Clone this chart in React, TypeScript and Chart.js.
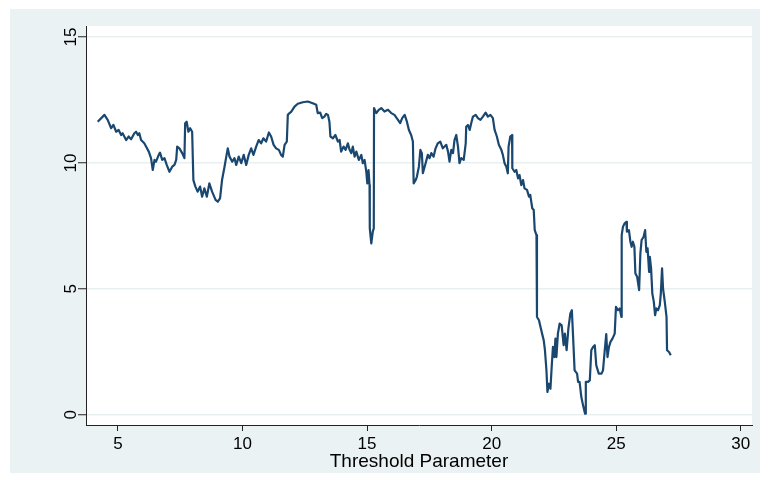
import { useEffect, useRef } from 'react';
import { Chart, registerables } from 'chart.js';

Chart.register(...registerables);

// Threshold parameter grid (x) and the test statistic at each grid point (y)
const THRESHOLD = [
  4.19, 4.46, 4.59, 4.73, 4.82, 4.93, 5.03, 5.13, 5.19, 5.33,
  5.43, 5.53, 5.66, 5.73, 5.8, 5.86, 5.93, 6.06, 6.13, 6.24,
  6.33, 6.4, 6.47, 6.53, 6.64, 6.69, 6.78, 6.87, 6.96, 7.07,
  7.18, 7.27, 7.34, 7.38, 7.47, 7.58, 7.67, 7.7, 7.76, 7.83,
  7.9, 7.98, 8.03, 8.11, 8.2, 8.3, 8.38, 8.47, 8.57, 8.67,
  8.78, 8.92, 9.01, 9.1, 9.18, 9.28, 9.35, 9.41, 9.48, 9.59,
  9.68, 9.75, 9.85, 9.95, 10.05, 10.15, 10.25, 10.35, 10.44, 10.55,
  10.65, 10.75, 10.84, 10.95, 11.06, 11.15, 11.25, 11.35, 11.46, 11.55,
  11.62, 11.69, 11.78, 11.82, 11.89, 11.96, 12.09, 12.22, 12.42, 12.62,
  12.82, 12.96, 13.02, 13.12, 13.2, 13.29, 13.36, 13.43, 13.49, 13.53,
  13.63, 13.73, 13.83, 13.9, 13.96, 14.06, 14.14, 14.23, 14.3, 14.37,
  14.43, 14.5, 14.57, 14.67, 14.77, 14.83, 14.9, 14.97, 15.01, 15.06,
  15.1, 15.11, 15.17, 15.23, 15.27, 15.28, 15.37, 15.47, 15.57, 15.7,
  15.84, 15.97, 16.1, 16.24, 16.33, 16.41, 16.51, 16.6, 16.68, 16.77,
  16.84, 16.87, 16.95, 17.0, 17.08, 17.14, 17.2, 17.24, 17.35, 17.44,
  17.51, 17.58, 17.67, 17.75, 17.84, 17.94, 18.04, 18.18, 18.25, 18.31,
  18.38, 18.45, 18.51, 18.58, 18.65, 18.71, 18.78, 18.88, 18.96, 18.98,
  19.05, 19.12, 19.18, 19.25, 19.36, 19.45, 19.55, 19.65, 19.76, 19.85,
  19.95, 20.05, 20.12, 20.21, 20.29, 20.39, 20.45, 20.52, 20.59, 20.65,
  20.68, 20.75, 20.82, 20.83, 20.92, 20.99, 21.06, 21.12, 21.19, 21.26,
  21.32, 21.42, 21.5, 21.55, 21.63, 21.69, 21.73, 21.8, 21.82, 21.9,
  21.96, 22.04, 22.09, 22.14, 22.2, 22.24, 22.3, 22.36, 22.41, 22.46,
  22.52, 22.56, 22.6, 22.66, 22.73, 22.81, 22.89, 22.94, 23.01, 23.08,
  23.16, 23.22, 23.27, 23.33, 23.43, 23.47, 23.53, 23.6, 23.67, 23.75,
  23.78, 23.87, 23.94, 24.0, 24.07, 24.14, 24.2, 24.3, 24.41, 24.47,
  24.54, 24.6, 24.65, 24.71, 24.77, 24.85, 24.94, 24.99, 25.07, 25.14,
  25.21, 25.22, 25.27, 25.34, 25.41, 25.43, 25.51, 25.57, 25.62, 25.67,
  25.73, 25.77, 25.84, 25.92, 25.97, 26.02, 26.1, 26.16, 26.21, 26.26,
  26.32, 26.35, 26.4, 26.45, 26.51, 26.56, 26.61, 26.68, 26.75, 26.79,
  26.84, 26.88, 26.95, 27.02, 27.04, 27.12, 27.19,
];

const STATISTIC = [
  11.64, 11.91, 11.71, 11.38, 11.51, 11.24, 11.31, 11.11, 11.18, 10.91,
  11.05, 10.94, 11.18, 11.24, 11.11, 11.18, 10.91, 10.78, 10.65, 10.45,
  10.19, 9.72, 10.12, 10.05, 10.32, 10.41, 10.12, 10.19, 9.92, 9.65,
  9.85, 9.92, 10.12, 10.65, 10.58, 10.39, 10.19, 11.58, 11.64, 11.24,
  11.38, 11.24, 9.32, 9.06, 8.86, 9.06, 8.66, 8.99, 8.66, 9.19,
  8.86, 8.53, 8.46, 8.59, 9.32, 9.85, 10.25, 10.58, 10.25, 10.05,
  10.19, 9.92, 10.25, 9.99, 10.32, 9.92, 10.32, 10.58, 10.32, 10.65,
  10.91, 10.78, 10.98, 10.85, 11.21, 11.05, 10.72, 10.58, 10.52, 10.32,
  10.25, 10.72, 10.85, 11.91, 11.98, 12.04, 12.24, 12.35, 12.41, 12.44,
  12.37, 12.31, 11.98, 12.0, 11.78, 11.84, 11.95, 11.91, 11.64, 11.05,
  10.98, 11.11, 10.85, 10.91, 10.45, 10.65, 10.52, 10.78, 10.52, 10.39,
  10.65, 10.25, 10.45, 10.12, 10.32, 9.99, 10.12, 9.65, 9.19, 9.72,
  9.12, 7.4, 6.8, 7.27, 7.4, 12.18, 11.98, 12.11, 12.18, 12.04,
  12.11, 11.98, 11.91, 11.71, 11.58, 11.78, 11.91, 11.64, 11.31, 11.11,
  10.85, 9.19, 9.32, 9.45, 9.85, 10.52, 10.39, 9.59, 9.99, 10.32,
  10.19, 10.39, 10.25, 10.58, 10.78, 10.85, 10.58, 10.72, 10.45, 10.05,
  10.52, 10.39, 10.91, 11.11, 10.65, 9.99, 10.19, 10.12, 10.78, 11.44,
  11.51, 11.31, 11.58, 11.84, 11.91, 11.78, 11.71, 11.84, 12.0, 11.84,
  11.91, 11.78, 11.31, 11.05, 10.72, 10.52, 10.32, 9.99, 9.85, 9.59,
  10.65, 11.05, 11.11, 9.79, 9.65, 9.72, 9.39, 9.52, 9.12, 9.32,
  8.99, 8.93, 8.66, 8.73, 8.2, 8.13, 7.33, 7.13, 3.88, 3.75,
  3.49, 3.16, 2.96, 2.56, 1.76, 0.9, 1.23, 1.03, 1.89, 2.69,
  2.29, 3.02, 2.29, 3.22, 3.62, 3.55, 2.76, 3.22, 2.56, 3.42,
  4.02, 4.15, 3.09, 1.76, 1.63, 1.3, 1.3, 0.7, 0.37, 0.04,
  1.3, 1.3, 1.36, 2.56, 2.69, 2.76, 1.96, 1.63, 1.63, 1.76,
  2.56, 3.2, 2.29, 2.69, 2.89, 3.02, 3.22, 4.28, 4.15, 4.22,
  3.88, 7.13, 7.46, 7.6, 7.66, 7.27, 7.33, 6.87, 6.67, 6.87,
  6.67, 5.61, 5.48, 4.95, 6.41, 6.94, 7.07, 7.33, 6.47, 6.61,
  5.67, 6.27, 5.81, 4.81, 4.48, 3.95, 4.22, 4.15, 4.35, 4.81,
  5.81, 5.01, 4.48, 3.88, 2.56, 2.49, 2.36,
];

const X_TICKS = [5, 10, 15, 20, 25, 30];
const Y_TICKS = [0, 5, 10, 15];
const X_TITLE = 'Threshold Parameter';

const FONT_FAMILY = '"Liberation Sans", Arial, Helvetica, sans-serif';
const LINE_COLOR = '#1a476f';
const AXIS_COLOR = '#222222';
const GRID_COLOR = '#e8eff1';
const PANEL_COLOR = '#eaf2f3';

// White plot region on top of the tinted panel
const plotBackground = {
  id: 'plotBackground',
  beforeDraw(chart: any) {
    const { ctx, chartArea: a } = chart;
    ctx.save();
    ctx.fillStyle = '#ffffff';
    ctx.fillRect(a.left, a.top, a.right - a.left, a.bottom - a.top);
    ctx.restore();
  },
};

// Vertical-axis labels, turned to read bottom-to-top
const rotatedYLabels = {
  id: 'rotatedYLabels',
  afterDraw(chart: any) {
    const { ctx } = chart;
    const scale = chart.scales.y;
    ctx.save();
    ctx.font = `17px ${FONT_FAMILY}`;
    ctx.fillStyle = '#000000';
    ctx.textAlign = 'center';
    ctx.textBaseline = 'alphabetic';
    for (const v of Y_TICKS) {
      const py = scale.getPixelForValue(v);
      ctx.save();
      ctx.translate(scale.right - 10, py);
      ctx.rotate(-Math.PI / 2);
      ctx.fillText(String(v), 0, 0);
      ctx.restore();
    }
    ctx.restore();
  },
};

export default function App() {
  const canvasRef = useRef<HTMLCanvasElement | null>(null);

  useEffect(() => {
    if (!canvasRef.current) return;
    const points = THRESHOLD.map((x, i) => ({ x, y: STATISTIC[i] }));
    const chart = new Chart(canvasRef.current, {
      type: 'scatter',
      data: {
        datasets: [
          {
            data: points,
            showLine: true,
            borderColor: LINE_COLOR,
            borderWidth: 2.2,
            borderJoinStyle: 'round',
            pointRadius: 0,
            fill: false,
          },
        ],
      },
      options: {
        animation: false,
        responsive: true,
        maintainAspectRatio: false,
        layout: { padding: { top: 17, right: 8, left: 0, bottom: 0 } },
        plugins: {
          legend: { display: false },
          tooltip: { enabled: false },
        },
        scales: {
          x: {
            type: 'linear',
            min: 3.72,
            max: 30.45,
            afterBuildTicks: (scale: any) => {
              scale.ticks = X_TICKS.map((value) => ({ value }));
            },
            afterFit: (scale: any) => {
              scale.height = 48;
              scale.paddingLeft = 0;
              scale.paddingRight = 0;
            },
            grid: {
              drawOnChartArea: false,
              drawTicks: true,
              tickLength: 6,
              tickColor: AXIS_COLOR,
            },
            border: { display: true, color: AXIS_COLOR, width: 1 },
            ticks: {
              color: '#000000',
              padding: 3,
              maxRotation: 0,
              autoSkip: false,
              font: { family: FONT_FAMILY, size: 17 },
            },
            title: {
              display: true,
              text: X_TITLE,
              color: '#000000',
              padding: { top: 0, bottom: 0 },
              font: { family: FONT_FAMILY, size: 19 },
            },
          },
          y: {
            type: 'linear',
            min: -0.41,
            max: 15.44,
            afterBuildTicks: (scale: any) => {
              scale.ticks = Y_TICKS.map((value) => ({ value }));
            },
            afterFit: (scale: any) => {
              scale.width = 76;
              scale.paddingTop = 0;
              scale.paddingBottom = 0;
            },
            grid: {
              color: GRID_COLOR,
              lineWidth: 1.5,
              drawTicks: true,
              tickLength: 8,
              tickColor: AXIS_COLOR,
              tickWidth: 1,
            },
            border: { display: true, color: AXIS_COLOR, width: 1 },
            ticks: { display: false },
          },
        },
      },
      plugins: [plotBackground, rotatedYLabels],
    } as any);
    return () => chart.destroy();
  }, []);

  return (
    <div
      style={{
        position: 'absolute',
        left: 10,
        top: 9,
        width: 750,
        height: 464,
        background: PANEL_COLOR,
      }}
    >
      <canvas ref={canvasRef} />
    </div>
  );
}
